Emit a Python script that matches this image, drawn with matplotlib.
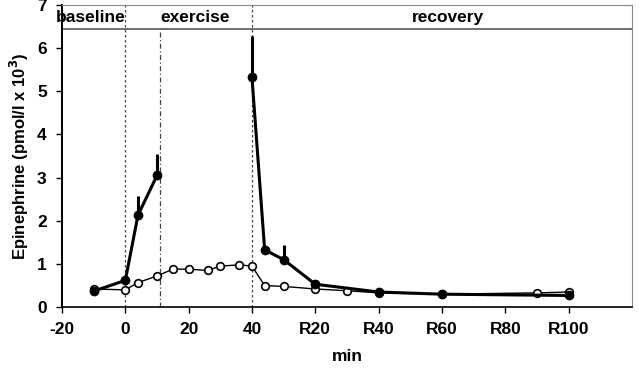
"""
Epinefrina plasmática: basal, ejercicio y recuperación.
"""

import matplotlib
matplotlib.use("Agg")
import matplotlib.pyplot as plt

plt.rcParams["font.family"] = ["Liberation Sans", "DejaVu Sans"]
plt.rcParams["font.weight"] = "bold"

# serie con marcador relleno (línea gruesa); sin muestras entre 10 y 40 min
x_lleno = [-10, 0, 4, 10, 40, 44, 50, 60, 80, 100, 140]
y_lleno = [0.37, 0.62, 2.13, 3.05, 5.32, 1.33, 1.10, 0.53, 0.35, 0.30, 0.27]
err_lleno = [0, 0, 0.45, 0.50, 0.95, 0, 0.35, 0, 0, 0, 0]
corte_lleno = 4  # índice donde se interrumpe la línea

# serie con marcador abierto (línea fina)
x_abierto = [-10, 0, 4, 10, 15, 20, 26, 30, 36, 40, 44, 50, 60, 70, 80, 100, 130, 140]
y_abierto = [0.42, 0.40, 0.57, 0.72, 0.88, 0.88, 0.85, 0.95, 0.98, 0.95,
             0.50, 0.48, 0.42, 0.38, 0.33, 0.30, 0.33, 0.35]

ticks_x = [-20, 0, 20, 40, 60, 80, 100, 120, 140]
etiquetas_x = ["-20", "0", "20", "40", "R20", "R40", "R60", "R80", "R100"]
ticks_y = [0, 1, 2, 3, 4, 5, 6, 7]

fases = ["baseline", "exercise", "recovery"]
fases_x = [-11, 22, 102]

fig = plt.figure(figsize=(6.39, 3.82), dpi=100)
ax = fig.add_axes([0.097, 0.196, 0.892, 0.791])

ax.set_xlim(-20, 160)
ax.set_ylim(0, 7)

# bandas de fase
ax.axhline(6.45, color="#555555", lw=1.2)
ax.axvline(0, color="#444444", lw=0.9, ls=(0, (2, 2)))
ax.axvline(40, color="#444444", lw=0.9, ls=(0, (2, 2)))
ax.plot([11, 11], [0, 6.45], color="#444444", lw=0.9, ls=(0, (4, 2, 1, 2)))
for txt, xp in zip(fases, fases_x):
    ax.text(xp, 6.72, txt, ha="center", va="center", fontsize=12.5, fontweight="bold")

ax.plot(x_abierto, y_abierto, color="black", lw=1.0, marker="o", ms=5.5,
        mfc="white", mec="black", mew=1.2, zorder=3)
for a, b in [(0, corte_lleno), (corte_lleno, len(x_lleno))]:
    ax.errorbar(x_lleno[a:b], y_lleno[a:b], yerr=[[0] * (b - a), err_lleno[a:b]],
                color="black", lw=2.2, marker="o", ms=6, elinewidth=2.2, capsize=0, zorder=4)

ax.set_xticks(ticks_x)
ax.set_xticklabels(etiquetas_x)
ax.set_yticks(ticks_y)
ax.tick_params(axis="both", direction="out", length=4, width=1, labelsize=12.5, pad=7)
for lab in ax.get_xticklabels() + ax.get_yticklabels():
    lab.set_fontweight("bold")

ax.spines["left"].set_linewidth(1.4)
ax.spines["bottom"].set_linewidth(1.2)
ax.spines["right"].set_color("#888888")
ax.spines["top"].set_color("#888888")

ax.set_xlabel("min", fontsize=12.5, fontweight="bold", labelpad=8)
ax.set_ylabel("Epinephrine (pmol/l x 10$^\\mathbf{3}$)", fontsize=12, fontweight="bold", labelpad=4)

fig.savefig("out.png", dpi=100)
